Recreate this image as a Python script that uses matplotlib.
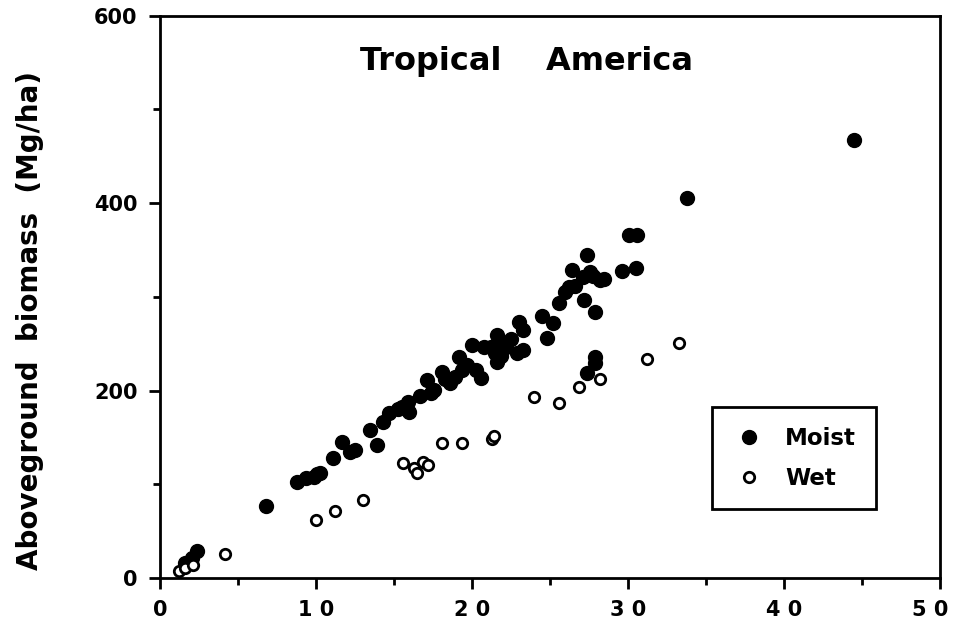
import matplotlib
matplotlib.use('Agg')
import matplotlib.pyplot as plt
import matplotlib.transforms as mtransforms
from matplotlib.ticker import MultipleLocator

# moist forest points (basal area vs biomass)
moist_x = [1.6, 2.05, 2.4, 6.8, 8.8, 9.4, 9.9, 10.1, 10.3, 11.1, 11.7, 12.2, 12.5,
           13.5, 13.9, 14.3, 14.7, 15.3, 15.5, 15.9, 16.0, 16.7, 17.1, 17.4, 17.6,
           18.1, 18.3, 18.6, 18.9, 19.2, 19.4, 19.7, 20.0, 20.3, 20.6, 20.8, 21.2,
           21.5, 21.6, 21.6, 21.9, 21.9, 22.2, 22.5, 22.9, 23.0, 23.3, 23.3, 24.5,
           24.8, 25.2, 25.6, 26.0, 26.2, 26.4, 26.6, 27.1, 27.2, 27.4, 27.4, 27.6,
           27.8, 27.9, 27.9, 27.9, 28.2, 28.5, 29.6, 30.1, 30.5, 30.6, 33.8, 44.5]
moist_y = [16, 21, 29, 77, 103, 107, 108, 111, 112, 128, 145, 134, 137,
           158, 142, 166, 176, 180, 182, 188, 177, 194, 211, 197, 201,
           220, 212, 208, 215, 236, 222, 227, 249, 222, 213, 246, 247,
           240, 259, 231, 252, 237, 247, 255, 240, 273, 265, 243, 280,
           256, 272, 293, 305, 311, 329, 312, 321, 297, 345, 219, 327,
           322, 284, 236, 229, 318, 319, 328, 366, 331, 366, 406, 467]

# wet forest points
wet_x = [1.2, 1.6, 2.1, 4.2, 10.0, 11.2, 13.0, 15.6, 16.3, 16.5, 16.9, 17.2,
         18.1, 19.4, 21.3, 21.4, 24.0, 25.6, 26.9, 28.2, 31.2, 33.3]
wet_y = [8, 11, 14, 26, 62, 72, 83, 123, 117, 112, 124, 121,
         144, 144, 148, 152, 193, 187, 204, 212, 234, 251]

x_ticks = [0, 10, 20, 30, 40, 50]
x_tick_labels = ['0', '1 0', '2 0', '3 0', '4 0', '5 0']
y_ticks = [0, 200, 400, 600]

plt.rcParams['font.family'] = 'DejaVu Sans'
plt.rcParams['font.weight'] = 'bold'

fig = plt.figure(figsize=(9.57, 6.3), dpi=100)
ax = fig.add_axes([0.167, 0.0825, 0.815, 0.8925])

ax.plot(moist_x, moist_y, 'o', color='black', markersize=10, label='Moist',
        clip_on=False)
ax.plot(wet_x, wet_y, 'o', markerfacecolor='white', markeredgecolor='black',
        markeredgewidth=2, markersize=7.5, label='Wet', clip_on=False)

ax.set_xlim(0, 50)
ax.set_ylim(0, 600)
ax.set_xticks(x_ticks)
ax.set_xticklabels(x_tick_labels)
ax.set_yticks(y_ticks)
ax.xaxis.set_minor_locator(MultipleLocator(5))
ax.yaxis.set_minor_locator(MultipleLocator(100))
ax.tick_params(which='major', direction='out', length=8, width=2,
               labelsize=15, pad=8)
ax.tick_params(which='minor', direction='out', length=5, width=2)
for s in ax.spines.values():
    s.set_linewidth(2)

# last x label sits a bit to the left so it stays on the page
lbl = ax.get_xticklabels()[-1]
lbl.set_transform(lbl.get_transform() +
                  mtransforms.ScaledTranslation(-0.1, 0, fig.dpi_scale_trans))

fig.text(30 / 957, 1 - 320 / 630, 'Aboveground  biomass  (Mg/ha)',
         rotation=90, ha='center', va='center', fontsize=20, fontweight='bold')

ax.text(0.47, 0.918, 'Tropical    America', transform=ax.transAxes,
        ha='center', va='center', fontsize=23, fontweight='bold')

leg = ax.legend(loc='upper left', bbox_to_anchor=(0.708, 0.304),
                frameon=True, fancybox=False, edgecolor='black', framealpha=1,
                fontsize=16.5, handletextpad=0.8, borderpad=0.85,
                labelspacing=0.75, borderaxespad=0, handlelength=1.55)
leg.get_frame().set_linewidth(2)

plt.savefig('out.png', dpi=100)
